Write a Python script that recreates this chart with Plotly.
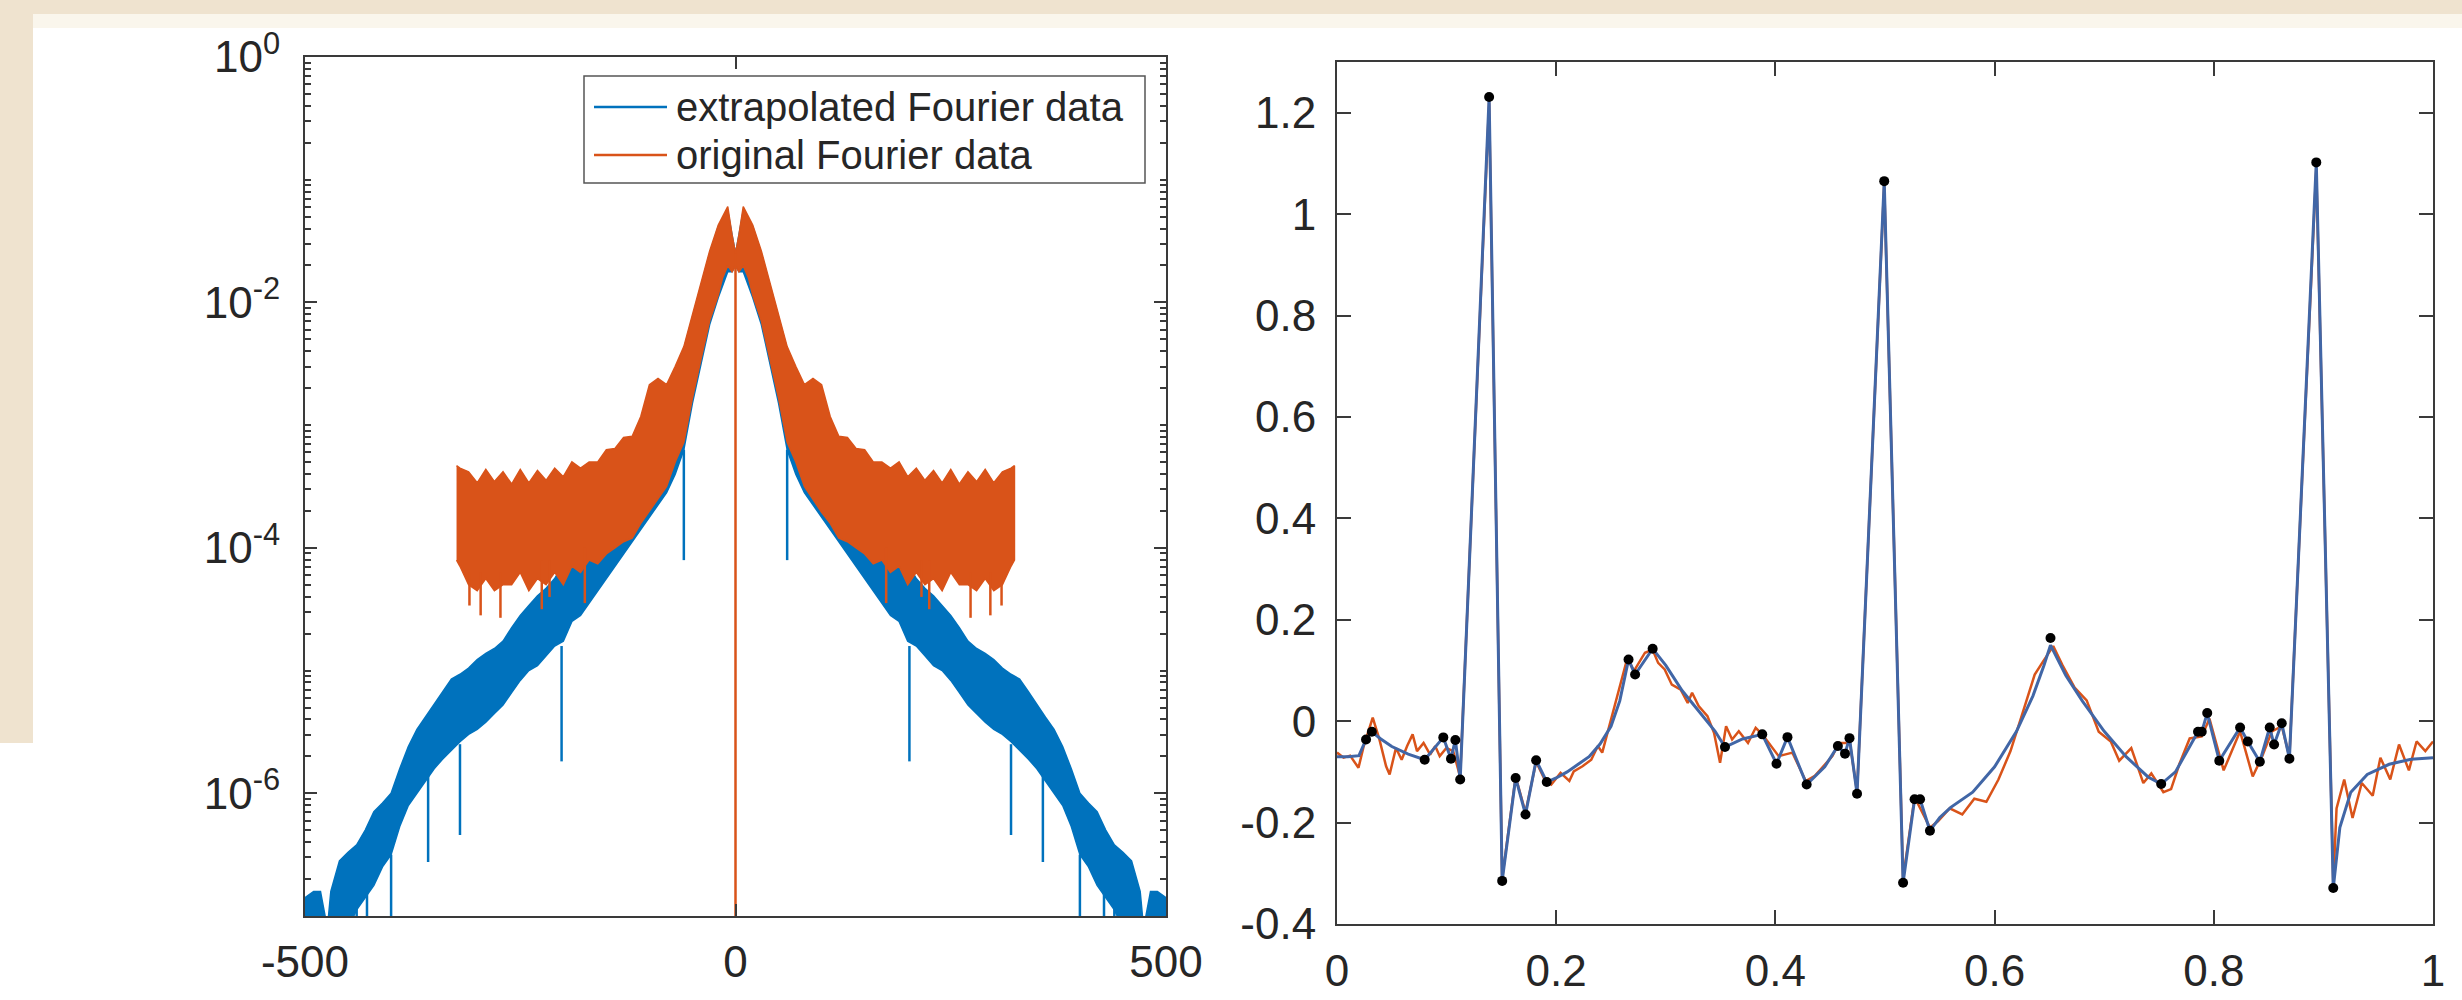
import plotly.graph_objects as go

# ---------------- Left panel: Fourier magnitudes (log10 values) ----------------
# positive-frequency half; the magnitude spectrum of a real signal is symmetric, mirrored below
blue_k = [0, 4, 9, 20, 30, 40, 50, 60, 70, 80, 90, 100, 110, 120, 130, 140, 150, 160, 170, 180, 190,
          200, 210, 220, 230, 240, 250, 260, 270, 280, 290, 300, 310, 320, 330, 340, 350, 360, 370,
          380, 390, 400, 410, 420, 430, 440, 450, 460, 470, 474, 482, 490, 500]
blue_upper_log10 = [-1.6, -1.45, -1.25, -1.38, -1.6, -1.86, -2.12, -2.38, -2.55, -2.7, -2.75, -2.75,
                    -2.98, -3.12, -3.3, -3.45, -3.6, -3.72, -3.85, -3.98, -4.05, -4.13, -4.25, -4.33,
                    -4.39, -4.47, -4.55, -4.65, -4.76, -4.82, -4.86, -4.91, -4.98, -5.03, -5.07, -5.17,
                    -5.28, -5.38, -5.48, -5.62, -5.8, -6.0, -6.08, -6.15, -6.3, -6.42, -6.48, -6.55,
                    -6.8, -7.1, -6.8, -6.8, -6.85]
blue_lower_log10 = [-1.7, -1.75, -1.75, -1.96, -2.18, -2.5, -2.82, -3.2, -3.4, -3.55, -3.65, -3.75,
                    -3.85, -3.95, -4.05, -4.15, -4.25, -4.35, -4.45, -4.55, -4.6, -4.76, -4.8, -4.88,
                    -4.96, -5.0, -5.08, -5.18, -5.28, -5.35, -5.42, -5.48, -5.52, -5.58, -5.65, -5.72,
                    -5.8, -5.9, -6.0, -6.1, -6.27, -6.5, -6.6, -6.75, -6.85, -6.95, -7.1, -7.1, -7.1,
                    -7.1, -7.1, -7.1, -7.1]
blue_spike_k = [60, 202, 320, 357, 400, 428, 440]
blue_spike_top_log10 = [-3.2, -4.8, -5.6, -5.85, -6.5, -6.8, -6.9]
blue_spike_bottom_log10 = [-4.1, -5.74, -6.34, -6.56, -7.2, -7.2, -7.2]

orange_k = [0, 4, 9, 15, 20, 30, 40, 50, 60, 70, 80, 90, 100, 110, 120, 130, 140, 150, 160, 170, 180,
            190, 200, 210, 220, 230, 240, 250, 260, 270, 280, 290, 300, 310, 320, 324]
orange_upper_log10 = [-1.6, -1.45, -1.22, -1.3, -1.37, -1.58, -1.84, -2.1, -2.36, -2.52, -2.67, -2.62,
                      -2.67, -2.93, -3.09, -3.1, -3.19, -3.2, -3.3, -3.3, -3.35, -3.3, -3.42, -3.35,
                      -3.45, -3.37, -3.47, -3.36, -3.48, -3.38, -3.46, -3.36, -3.47, -3.38, -3.35, -3.33]
orange_lower_log10 = [-1.7, -1.75, -1.7, -1.8, -1.94, -2.15, -2.46, -2.78, -3.14, -3.3, -3.5, -3.6,
                      -3.71, -3.8, -3.92, -3.95, -4.0, -4.05, -4.13, -4.1, -4.2, -4.15, -4.3, -4.2,
                      -4.3, -4.25, -4.35, -4.2, -4.3, -4.3, -4.35, -4.25, -4.35, -4.3, -4.15, -4.1]
orange_spike_k = [175, 216, 225, 273, 296, 309]
orange_spike_top_log10 = [-4.0, -4.1, -4.1, -4.2, -4.2, -4.2]
orange_spike_bottom_log10 = [-4.45, -4.4, -4.5, -4.57, -4.55, -4.47]
# DC coefficient of the original data is ~0: vertical drop at k = 0
dc_k = [0, 0]
dc_log10 = [-1.6, -8.0]

left_xticks = [-500, 0, 500]
left_label_exp = [0, -2, -4, -6]
legend_names = ["extrapolated Fourier data", "original Fourier data"]

# ---------------- Right panel: signal ----------------
dots_x = [0.0265, 0.0318, 0.080, 0.097, 0.104, 0.108, 0.1124, 0.1388, 0.1507, 0.163, 0.172, 0.1817,
          0.1914, 0.266, 0.272, 0.288, 0.354, 0.388, 0.401, 0.411, 0.4285, 0.457, 0.4635, 0.4676,
          0.4745, 0.4993, 0.5165, 0.527, 0.532, 0.541, 0.651, 0.752, 0.7856, 0.789, 0.794, 0.805,
          0.824, 0.831, 0.842, 0.851, 0.855, 0.862, 0.869, 0.8935, 0.909]
dots_y = [-0.036, -0.021, -0.076, -0.032, -0.074, -0.037, -0.115, 1.231, -0.315, -0.112, -0.184,
          -0.077, -0.120, 0.1215, 0.092, 0.143, -0.051, -0.026, -0.084, -0.0315, -0.125, -0.049,
          -0.064, -0.0335, -0.143, 1.065, -0.3185, -0.154, -0.154, -0.216, 0.164, -0.124, -0.021,
          -0.021, 0.016, -0.078, -0.0125, -0.040, -0.080, -0.0125, -0.046, -0.004, -0.074, 1.102,
          -0.329]

blue_x = [0.0, 0.01, 0.02, 0.0265, 0.0318, 0.04, 0.05, 0.065, 0.080, 0.097, 0.104, 0.108, 0.1124,
          0.1388, 0.1507, 0.163, 0.172, 0.1817, 0.1914, 0.20, 0.21, 0.22, 0.23, 0.24, 0.25, 0.258,
          0.266, 0.272, 0.288, 0.30, 0.315, 0.33, 0.345, 0.354, 0.37, 0.388, 0.401, 0.411, 0.4285,
          0.445, 0.457, 0.4635, 0.4676, 0.4745, 0.4993, 0.5165, 0.527, 0.532, 0.541, 0.55, 0.56,
          0.58, 0.60, 0.62, 0.635, 0.645, 0.651, 0.665, 0.68, 0.70, 0.72, 0.74, 0.752, 0.765,
          0.7856, 0.789, 0.794, 0.805, 0.824, 0.831, 0.842, 0.851, 0.855, 0.862, 0.869, 0.8935,
          0.909, 0.915, 0.925, 0.94, 0.96, 0.98, 1.0]
blue_y = [-0.07, -0.07, -0.068, -0.036, -0.021, -0.035, -0.05, -0.065, -0.076, -0.032, -0.074,
          -0.037, -0.115, 1.231, -0.315, -0.112, -0.184, -0.077, -0.120, -0.112, -0.10, -0.085,
          -0.07, -0.045, -0.01, 0.04, 0.1215, 0.092, 0.143, 0.11, 0.06, 0.02, -0.02, -0.051,
          -0.035, -0.026, -0.084, -0.0315, -0.125, -0.09, -0.049, -0.064, -0.0335, -0.143, 1.065,
          -0.3185, -0.154, -0.154, -0.216, -0.19, -0.17, -0.14, -0.09, -0.02, 0.05, 0.11, 0.15,
          0.09, 0.04, -0.02, -0.07, -0.11, -0.124, -0.10, -0.021, -0.021, 0.016, -0.078, -0.0125,
          -0.040, -0.080, -0.0125, -0.046, -0.004, -0.074, 1.102, -0.329, -0.21, -0.14, -0.105,
          -0.085, -0.075, -0.072]

orange_x = [0.0, 0.006, 0.012, 0.0196, 0.0244, 0.0326, 0.0387, 0.0448, 0.048, 0.0538, 0.059, 0.064,
            0.069, 0.073, 0.079, 0.085, 0.0896, 0.0937, 0.0998, 0.106, 0.1124, 0.1388, 0.1507,
            0.163, 0.172, 0.1817, 0.1894, 0.1955, 0.204, 0.212, 0.216, 0.224, 0.232, 0.238, 0.242,
            0.248, 0.2525, 0.259, 0.265, 0.271, 0.281, 0.288, 0.293, 0.299, 0.3055, 0.3136, 0.32,
            0.324, 0.33, 0.338, 0.344, 0.3495, 0.355, 0.3605, 0.3666, 0.375, 0.382, 0.388, 0.403,
            0.4155, 0.4277, 0.436, 0.444, 0.452, 0.458, 0.468, 0.4745, 0.4993, 0.5165, 0.527,
            0.541, 0.5485, 0.559, 0.5705, 0.5815, 0.5925, 0.6035, 0.6145, 0.6255, 0.6366, 0.644,
            0.6535, 0.662, 0.673, 0.684, 0.695, 0.706, 0.7137, 0.7247, 0.7357, 0.743, 0.754, 0.761,
            0.7687, 0.778, 0.789, 0.796, 0.809, 0.824, 0.8355, 0.844, 0.853, 0.862, 0.869, 0.8935,
            0.909, 0.912, 0.919, 0.9266, 0.935, 0.945, 0.952, 0.961, 0.969, 0.978, 0.985, 0.993, 1.0]
orange_y = [-0.062, -0.072, -0.068, -0.092, -0.049, 0.007, -0.036, -0.089, -0.105, -0.053, -0.076,
            -0.049, -0.026, -0.059, -0.043, -0.066, -0.049, -0.069, -0.053, -0.059, -0.11, 1.22,
            -0.31, -0.11, -0.18, -0.08, -0.115, -0.125, -0.102, -0.118, -0.099, -0.089, -0.076,
            -0.049, -0.062, -0.013, 0.023, 0.076, 0.125, 0.099, 0.135, 0.141, 0.115, 0.102, 0.072,
            0.062, 0.036, 0.056, 0.030, 0.010, -0.023, -0.082, -0.010, -0.036, -0.020, -0.043,
            -0.013, -0.026, -0.069, -0.062, -0.118, -0.108, -0.089, -0.069, -0.043, -0.043, -0.14,
            1.06, -0.31, -0.15, -0.21, -0.197, -0.172, -0.184, -0.153, -0.159, -0.115, -0.059,
            0.016, 0.092, 0.117, 0.148, 0.110, 0.066, 0.041, -0.021, -0.040, -0.078, -0.053,
            -0.122, -0.103, -0.140, -0.134, -0.084, -0.034, -0.03, 0.005, -0.097, -0.02, -0.109,
            -0.07, -0.02, -0.01, -0.07, 1.09, -0.32, -0.172, -0.115, -0.191, -0.122, -0.147,
            -0.072, -0.115, -0.046, -0.097, -0.040, -0.059, -0.040]

right_xticks = [0, 0.2, 0.4, 0.6, 0.8, 1]
right_yticks = [-0.4, -0.2, 0, 0.2, 0.4, 0.6, 0.8, 1, 1.2]

# ---------------- styles ----------------
BLUE = "#0072BD"
ORANGE = "#D95319"
SIG_BLUE = "#4166a6"
AXIS = "#3a3a3a"
TXT = "#262626"
FONT = "Liberation Sans"
W, H = 2462, 1000


def mirror(ks, vals):
    xs = [-k for k in ks[::-1]] + list(ks[1:])
    vs = list(vals[::-1]) + list(vals[1:])
    return xs, vs


def band(ks, up, lo):
    xs, u = mirror(ks, up)
    _, l = mirror(ks, lo)
    return xs + xs[::-1], [10 ** v for v in u] + [10 ** v for v in l[::-1]]


def spikes(ks, tops, bottoms):
    sx, sy = [], []
    for k, t, b in zip(ks, tops, bottoms):
        for sgn in (-1, 1):
            sx += [sgn * k, sgn * k, None]
            sy += [10 ** t, 10 ** b, None]
    return sx, sy


fig = go.Figure()

bx, by = band(blue_k, blue_upper_log10, blue_lower_log10)
fig.add_trace(go.Scatter(x=bx, y=by, mode="lines", fill="toself", fillcolor=BLUE,
                         line=dict(color=BLUE, width=1.5), showlegend=False, hoverinfo="skip",
                         xaxis="x", yaxis="y"))
sx, sy = spikes(blue_spike_k, blue_spike_top_log10, blue_spike_bottom_log10)
fig.add_trace(go.Scatter(x=sx, y=sy, mode="lines", line=dict(color=BLUE, width=2.5),
                         showlegend=False, hoverinfo="skip", xaxis="x", yaxis="y"))

ox, oy = band(orange_k, orange_upper_log10, orange_lower_log10)
fig.add_trace(go.Scatter(x=ox, y=oy, mode="lines", fill="toself", fillcolor=ORANGE,
                         line=dict(color=ORANGE, width=1.5), showlegend=False, hoverinfo="skip",
                         xaxis="x", yaxis="y"))
sx, sy = spikes(orange_spike_k, orange_spike_top_log10, orange_spike_bottom_log10)
fig.add_trace(go.Scatter(x=sx, y=sy, mode="lines", line=dict(color=ORANGE, width=2.5),
                         showlegend=False, hoverinfo="skip", xaxis="x", yaxis="y"))
fig.add_trace(go.Scatter(x=dc_k, y=[10 ** v for v in dc_log10], mode="lines",
                         line=dict(color=ORANGE, width=2.5), showlegend=False, hoverinfo="skip",
                         xaxis="x", yaxis="y"))

fig.add_trace(go.Scatter(x=orange_x, y=orange_y, mode="lines", line=dict(color=ORANGE, width=2.5),
                         showlegend=False, hoverinfo="skip", xaxis="x2", yaxis="y2"))
fig.add_trace(go.Scatter(x=blue_x, y=blue_y, mode="lines", line=dict(color=SIG_BLUE, width=3),
                         showlegend=False, hoverinfo="skip", xaxis="x2", yaxis="y2"))
fig.add_trace(go.Scatter(x=dots_x, y=dots_y, mode="markers", marker=dict(color="black", size=10),
                         showlegend=False, hoverinfo="skip", xaxis="x2", yaxis="y2"))

axis_common = dict(showline=True, linecolor=AXIS, linewidth=2, mirror="ticks", ticks="inside",
                   tickcolor=AXIS, tickwidth=1.5, showgrid=False, zeroline=False, automargin=False,
                   tickfont=dict(family=FONT, size=44, color=TXT))


def dx(a, b):
    return [a / W, b / W]


def dy(top, bottom):
    return [1 - bottom / H, 1 - top / H]


def fx(p):
    return p / W


def fy(p):
    return 1 - p / H


# MATLAB-style minor ticks on the log axis: every digit of every decade not carrying a label
minor_vals = [m * 10.0 ** e for e in range(-7, 0) for m in range(1, 10)
              if not (m == 1 and e in left_label_exp)]

# legend box (paper coordinates), drawn to match the MATLAB legend
LEG_L, LEG_R, LEG_T, LEG_B = 584, 1145, 76, 183
LEG_ROWS = [107, 155]
legend_shapes = [dict(type="rect", xref="paper", yref="paper", x0=fx(LEG_L), x1=fx(LEG_R),
                      y0=fy(LEG_B), y1=fy(LEG_T), fillcolor="white",
                      line=dict(color="#555555", width=1.5), layer="above")]
legend_annots = []
for name, col, row in zip(legend_names, [BLUE, ORANGE], LEG_ROWS):
    legend_shapes.append(dict(type="line", xref="paper", yref="paper", x0=fx(594), x1=fx(667),
                              y0=fy(row), y1=fy(row), line=dict(color=col, width=2.5),
                              layer="above"))
    legend_annots.append(dict(text=name, xref="paper", yref="paper", x=fx(674), y=fy(row),
                              xanchor="left", yanchor="middle", showarrow=False,
                              font=dict(family=FONT, size=40, color=TXT)))

bg_shapes = [
    dict(type="rect", xref="paper", yref="paper", x0=0, x1=1, y0=fy(14), y1=1,
         fillcolor="#efe3cf", line=dict(width=0), layer="below"),
    dict(type="rect", xref="paper", yref="paper", x0=fx(33), x1=1, y0=fy(28), y1=fy(14),
         fillcolor="#faf6ec", line=dict(width=0), layer="below"),
    dict(type="rect", xref="paper", yref="paper", x0=0, x1=fx(33), y0=fy(743), y1=fy(14),
         fillcolor="#efe3cf", line=dict(width=0), layer="below"),
]

fig.update_layout(
    template="none",
    width=W, height=H, margin=dict(l=0, r=0, t=0, b=0, pad=0, autoexpand=False),
    paper_bgcolor="white", plot_bgcolor="white", showlegend=False,
    xaxis=dict(domain=dx(305, 1166), range=[-500, 500], tickvals=left_xticks,
               ticktext=[str(v) for v in left_xticks], ticklen=12, ticklabelstandoff=6,
               anchor="y", **axis_common),
    yaxis=dict(domain=dy(57, 916), type="log", range=[-7, 0],
               tickvals=[10 ** e for e in left_label_exp],
               ticktext=["10<sup>%d</sup>" % e for e in left_label_exp],
               ticklen=12, ticklabelstandoff=14, anchor="x",
               minor=dict(tickmode="array", tickvals=minor_vals, ticks="inside", ticklen=6,
                          tickcolor=AXIS, showgrid=False),
               **axis_common),
    xaxis2=dict(domain=dx(1337, 2433), range=[0, 1], tickvals=right_xticks,
                ticktext=["0", "0.2", "0.4", "0.6", "0.8", "1"], ticklen=14,
                ticklabelstandoff=7, anchor="y2", **axis_common),
    yaxis2=dict(domain=dy(62, 924), range=[-0.4, 1.3], tickvals=right_yticks,
                ticktext=["-0.4", "-0.2", "0", "0.2", "0.4", "0.6", "0.8", "1", "1.2"],
                ticklen=14, ticklabelstandoff=10, anchor="x2", **axis_common),
    shapes=bg_shapes + legend_shapes,
    annotations=legend_annots,
)

fig.write_html("out.html", config={"displayModeBar": False},
               post_script="document.body.style.margin='0px';"
                           "document.body.style.overflow='hidden';")
